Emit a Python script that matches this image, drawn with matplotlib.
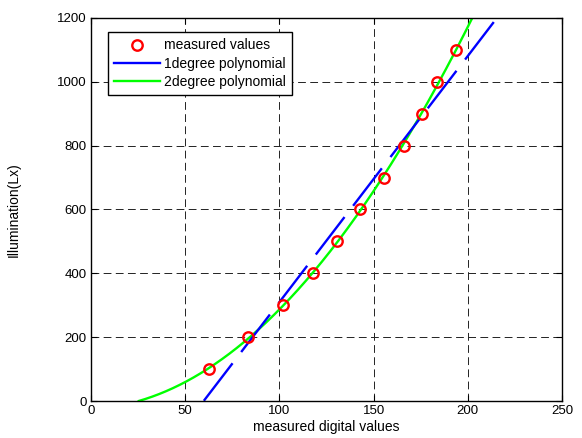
import numpy as np
import matplotlib
matplotlib.use("Agg")
import matplotlib.pyplot as plt
from matplotlib.lines import Line2D

plt.rcParams['font.family'] = ['Liberation Sans', 'DejaVu Sans']

# measured data
digital_values = [62.8, 83.4, 101.9, 117.6, 130.7, 142.8, 155.3, 166.0, 175.9, 183.8, 193.7]
illumination = [100, 200, 300, 400, 500, 600, 700, 800, 900, 1000, 1100]

x_ticks = [0, 50, 100, 150, 200, 250]
y_ticks = [0, 200, 400, 600, 800, 1000, 1200]

legend_labels = ['measured values', '1degree polynomial', '2degree polynomial']

fig = plt.figure(figsize=(5.82, 4.38), dpi=100)
ax = fig.add_axes([91/582, 1-401/438, 471/582, 383/438])

xs = np.linspace(0, 250, 2000)
p1 = np.polyfit(digital_values, illumination, 1)
p2 = np.polyfit(digital_values, illumination, 2)
y1 = np.polyval(p1, xs)
y2 = np.polyval(p2, xs)
m1 = y1 >= 0
m2 = (y2 >= 0) & (xs > 0) & (np.gradient(y2) > 0)

ax.plot(xs[m2], y2[m2], color='#00ff00', lw=1.7, zorder=3)
ax.plot(xs[m1], y1[m1], color='#0000ff', lw=1.7, dashes=(20, 6), zorder=4)
ax.plot(digital_values, illumination, 'o', mfc='none', mec='#ff0000', ms=7.5, mew=1.7, zorder=5)

ax.set_xlim(0, 250)
ax.set_ylim(0, 1200)
ax.set_xticks(x_ticks)
ax.set_yticks(y_ticks)
ax.tick_params(direction='in', length=4, width=0.8, labelsize=9.5, top=True, right=True, pad=3)
ax.grid(True, color='#222222', lw=0.7, dashes=(8, 4.5))
for s in ax.spines.values():
    s.set_linewidth(1.0)
    s.set_zorder(6)

ax.set_xlabel('measured digital values', fontsize=10)
ax.set_ylabel('Illumination(Lx)', fontsize=10)
ax.xaxis.set_label_coords(0.5, -0.05)
ax.yaxis.set_label_coords(-0.15, 0.5)

handles = [
    Line2D([], [], ls='none', marker='o', mfc='none', mec='#ff0000', ms=7.5, mew=1.7),
    Line2D([], [], color='#0000ff', lw=1.7),
    Line2D([], [], color='#00ff00', lw=1.7),
]
leg = ax.legend(handles, legend_labels, loc='upper left', bbox_to_anchor=(0.036, 0.963),
                fontsize=10, frameon=True, fancybox=False, edgecolor='black',
                framealpha=1, borderaxespad=0, handlelength=3.3, labelspacing=0.3,
                handletextpad=0.25, borderpad=0.45)
leg.get_frame().set_linewidth(1.0)

fig.savefig('out.png', dpi=100)
